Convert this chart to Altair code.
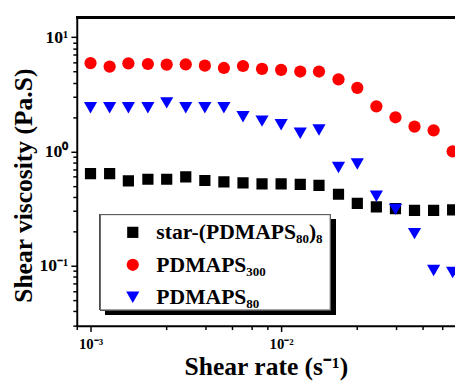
import altair as alt
import pandas as pd

# ---- data ----
shear_rate = [0.00100, 0.00126, 0.00158, 0.00200, 0.00251, 0.00316, 0.00398, 0.00501, 0.00631, 0.00794,
              0.0100, 0.0126, 0.0158, 0.0200, 0.0251, 0.0316, 0.0398, 0.0501, 0.0631, 0.0794]
star_visc = [0.639, 0.639, 0.552, 0.571, 0.571, 0.598, 0.557, 0.542, 0.531, 0.520,
             0.520, 0.514, 0.505, 0.422, 0.351, 0.327, 0.316, 0.305, 0.305, 0.308]
p300_visc = [5.93, 5.52, 5.90, 5.82, 5.75, 5.78, 5.63, 5.37, 5.59, 5.27,
             5.17, 5.00, 5.00, 4.27, 3.60, 2.48, 1.99, 1.65, 1.53, 1.00]
p80_visc = [2.41, 2.41, 2.41, 2.41, 2.66, 2.41, 2.41, 2.41, 2.01, 1.84,
            1.71, 1.44, 1.54, 0.724, 0.776, 0.406, 0.311, 0.191, 0.0908, 0.0872]

series_names = ["star-(PDMAPS₈₀)₈", "PDMAPS₃₀₀", "PDMAPS₈₀"]
series_colors = ["#000000", "#ff0000", "#0000ff"]
series_shapes = ["square", "circle", "triangle-down"]
series_sizes = [130, 180, 240]

x_major = [0.001, 0.01]
x_minor = [0.00085, 0.0025, 0.004, 0.0055, 0.007, 0.0085, 0.025, 0.04, 0.055, 0.07]
y_major = [0.1, 1, 10]
y_minor = [0.03, 0.04, 0.05, 0.06, 0.07, 0.08, 0.09,
           0.2, 0.3, 0.4, 0.5, 0.6, 0.7, 0.8, 0.9,
           2, 3, 4, 5, 6, 7, 8, 9]

rows = []
for name, vals in zip(series_names, [star_visc, p300_visc, p80_visc]):
    for x, v in zip(shear_rate, vals):
        rows.append({"rate": x, "visc": v, "series": name})
df = pd.DataFrame(rows)

W, H = 385, 314
FONT = "Liberation Serif"

x_scale = alt.Scale(type="log", domain=[0.000847, 0.0817], nice=False)
y_scale = alt.Scale(type="log", domain=[0.0299, 14.94], nice=False)

x_axis = alt.Axis(
    values=x_major + x_minor,
    labelExpr="datum.value == 0.001 ? '10⁻³' : datum.value == 0.01 ? '10⁻²' : ''",
    tickSize={"condition": {"test": "datum.value == 0.001 || datum.value == 0.01", "value": 6}, "value": 4},
    title="Shear rate (s⁻¹)",
    titleY=50, titleBaseline="alphabetic",
    titleFontSize=26,
    labelFontSize=15, labelPadding=5,
    labelFont=FONT, labelFontWeight="bold", labelColor="black",
    titleFont=FONT, titleFontWeight="bold", titleColor="black",
    domainColor="black", domainWidth=2, tickColor="black", tickWidth=1.5,
    grid=False,
)
y_axis = alt.Axis(
    values=y_major + y_minor,
    labelExpr="datum.value == 10 ? '10¹' : datum.value == 1 ? '10⁰' : datum.value == 0.1 ? '10⁻¹' : ''",
    tickSize={"condition": {"test": "datum.value == 10 || datum.value == 1 || datum.value == 0.1", "value": 6}, "value": 4},
    title="Shear viscosity (Pa.S)",
    titleX=-46.5, titleY=171, titleAngle=270, titleBaseline="alphabetic", titleAlign="center",
    titleFontSize=26,
    labelFontSize=18, labelPadding=3,
    labelFont=FONT, labelFontWeight="bold", labelColor="black",
    titleFont=FONT, titleFontWeight="bold", titleColor="black",
    domainColor="black", domainWidth=2, tickColor="black", tickWidth=1.5,
    grid=False,
)

legend = alt.Legend(orient="none", legendX=46, legendY=208, title=None,
                    padding=0, rowPadding=11, labelOffset=13,
                    labelFontSize=22, labelFont=FONT, labelFontWeight="bold",
                    labelColor="black", labelLimit=400)

points = alt.Chart(df).mark_point(filled=True, opacity=1, clip=True, strokeWidth=0).encode(
    x=alt.X("rate:Q", scale=x_scale, axis=x_axis),
    y=alt.Y("visc:Q", scale=y_scale, axis=y_axis),
    color=alt.Color("series:N", scale=alt.Scale(domain=series_names, range=series_colors), legend=legend),
    shape=alt.Shape("series:N", scale=alt.Scale(domain=series_names, range=series_shapes), legend=legend),
    size=alt.Size("series:N", scale=alt.Scale(domain=series_names, range=series_sizes), legend=legend),
)

top_rule = alt.Chart(df).mark_rule(color="black", strokeWidth=2).encode(
    x=alt.value(0), x2=alt.value(W), y=alt.value(0)
)

shadow = alt.Chart(df).mark_rect(color="black").encode(
    x=alt.value(29), x2=alt.value(263), y=alt.value(206), y2=alt.value(303)
)
box = alt.Chart(df).mark_rect(fill="white", stroke="#555555", strokeWidth=1).encode(
    x=alt.value(24), x2=alt.value(258), y=alt.value(201), y2=alt.value(298)
)

chart = alt.layer(points, shadow, box, top_rule).properties(
    width=W, height=H,
    background="white",
    autosize=alt.AutoSizeParams(type="none"),
    padding={"left": 70, "top": 6, "right": 0, "bottom": 55},
).configure_view(stroke=None)

chart.save("out.html", embed_options={"renderer": "svg", "actions": False})
